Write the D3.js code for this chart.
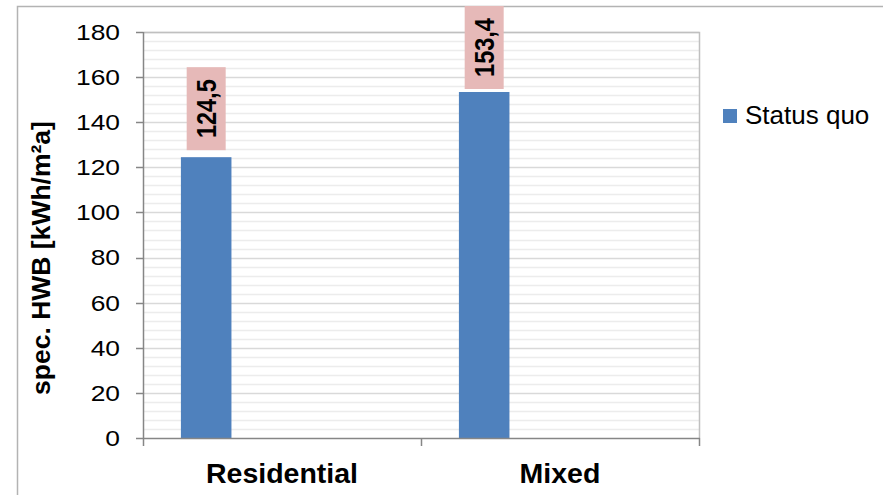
<!DOCTYPE html>
<html>
<head>
<meta charset="utf-8">
<script src="https://cdn.jsdelivr.net/npm/d3@7"></script>
<style>
  html, body { margin: 0; padding: 0; background: #fff; }
  svg { display: block; font-family: "Liberation Sans", Arial, sans-serif; }
</style>
</head>
<body>
<svg id="chart" width="883" height="495"></svg>
<script>
// ---- data ----
const categories = ["Residential", "Mixed"];
const seriesNames = ["Status quo"];
const statusQuo = [124.5, 153.4];
const valueLabels = ["124,5", "153,4"];
const yTicks = [0, 20, 40, 60, 80, 100, 120, 140, 160, 180];
const yMinorStep = 4;
const yTitle = "spec. HWB [kWh/m²a]";

// ---- layout ----
const W = 883, H = 495;
const plot = { left: 143, top: 32, right: 699, bottom: 438 };
const SLOTS = 4; // clustered layout slots per category
const barColor = "#4f81bd";
const labelBg = "#e6b9b8";

const svg = d3.select("#chart");

// outer chart border
svg.append("rect")
  .attr("x", 17.5).attr("y", 6.5)
  .attr("width", W + 20).attr("height", H + 20)
  .attr("fill", "#fff").attr("stroke", "#b3b3b3").attr("stroke-width", 1.5);

const y = d3.scaleLinear().domain([0, 180]).range([plot.bottom, plot.top]);
const x = d3.scaleBand().domain(categories).range([plot.left, plot.right]).padding(0);
const x1 = d3.scaleBand().domain(d3.range(SLOTS)).range([0, x.bandwidth()])
  .paddingInner(0).paddingOuter(0.75);

// minor gridlines
const minor = d3.range(0, 180 + 0.001, yMinorStep).filter(v => v % 20 !== 0);
svg.append("g").selectAll("line").data(minor).join("line")
  .attr("x1", plot.left).attr("x2", plot.right)
  .attr("y1", d => Math.round(y(d)) + 0.5).attr("y2", d => Math.round(y(d)) + 0.5)
  .attr("stroke", "#ececec").attr("stroke-width", 1.5);

// major gridlines
svg.append("g").selectAll("line").data(yTicks.filter(v => v > 0)).join("line")
  .attr("x1", plot.left).attr("x2", plot.right)
  .attr("y1", d => Math.round(y(d)) + 0.5).attr("y2", d => Math.round(y(d)) + 0.5)
  .attr("stroke", "#d9d9d9").attr("stroke-width", 1.5);

// plot area border (top & right)
svg.append("path")
  .attr("d", `M${plot.left},${plot.top + 0.5}H${plot.right + 0.5}V${plot.bottom}`)
  .attr("fill", "none").attr("stroke", "#c0c0c0").attr("stroke-width", 1.5);

// bars
svg.append("g").selectAll("rect").data(statusQuo).join("rect")
  .attr("x", (d, i) => x(categories[i]) + x1(0))
  .attr("width", x1.bandwidth())
  .attr("y", d => y(d))
  .attr("height", d => y(0) - y(d))
  .attr("fill", barColor);

// data labels
const boxW = 39, boxH = 83, boxGap = 7, boxMinTop = 6;
const lab = svg.append("g").selectAll("g").data(statusQuo).join("g")
  .attr("transform", (d, i) => {
    const cx = x(categories[i]) + x1(0) + x1.bandwidth() / 2;
    let top = y(d) - boxGap - boxH;
    if (top < boxMinTop) top = boxMinTop;
    return `translate(${cx},${top + boxH / 2})`;
  });
lab.append("rect")
  .attr("x", -boxW / 2).attr("y", -boxH / 2)
  .attr("width", boxW).attr("height", boxH)
  .attr("fill", labelBg);
lab.append("text")
  .attr("transform", "scale(1.2,1) rotate(-90)")
  .attr("text-anchor", "middle")
  .attr("dy", "0.36em")
  .attr("font-size", 23.5).attr("font-weight", "bold").attr("fill", "#000")
  .text((d, i) => valueLabels[i]);

// y axis line & ticks
const axisColor = "#868686";
svg.append("line")
  .attr("x1", plot.left + 0.5).attr("x2", plot.left + 0.5)
  .attr("y1", plot.top).attr("y2", plot.bottom + 1)
  .attr("stroke", axisColor).attr("stroke-width", 1.5);
svg.append("g").selectAll("line").data(yTicks).join("line")
  .attr("x1", plot.left - 7).attr("x2", plot.left)
  .attr("y1", d => Math.round(y(d)) + 0.5).attr("y2", d => Math.round(y(d)) + 0.5)
  .attr("stroke", axisColor).attr("stroke-width", 1.5);
svg.append("g").selectAll("text").data(yTicks).join("text")
  .attr("transform", d => `translate(120,${y(d)}) scale(1.2,1)`)
  .attr("text-anchor", "end").attr("dy", "0.36em")
  .attr("font-size", 22).attr("fill", "#000")
  .text(d => d);

// x axis line & ticks
svg.append("line")
  .attr("x1", plot.left).attr("x2", plot.right + 1)
  .attr("y1", plot.bottom + 0.5).attr("y2", plot.bottom + 0.5)
  .attr("stroke", axisColor).attr("stroke-width", 1.5);
const xTickPos = categories.map(c => x(c)).concat([plot.right]);
svg.append("g").selectAll("line").data(xTickPos).join("line")
  .attr("x1", d => d + 0.5).attr("x2", d => d + 0.5)
  .attr("y1", plot.bottom).attr("y2", plot.bottom + 8)
  .attr("stroke", axisColor).attr("stroke-width", 1.5);
svg.append("g").selectAll("text").data(categories).join("text")
  .attr("x", d => x(d) + x.bandwidth() / 2).attr("y", 482.5)
  .attr("text-anchor", "middle")
  .attr("font-size", 28.5).attr("font-weight", "bold").attr("fill", "#000")
  .text(d => d);

// y title
svg.append("text")
  .attr("transform", `translate(50,258) rotate(-90)`)
  .attr("text-anchor", "middle")
  .attr("font-size", 26.5).attr("font-weight", "bold").attr("fill", "#000")
  .text(yTitle);

// legend
const leg = svg.append("g").selectAll("g").data(seriesNames).join("g");
leg.append("rect").attr("x", 723).attr("y", 109).attr("width", 14).attr("height", 14).attr("fill", barColor);
leg.append("text").attr("x", 745).attr("y", 123.5)
  .attr("font-size", 26).attr("fill", "#000").text(d => d);
</script>
</body>
</html>
